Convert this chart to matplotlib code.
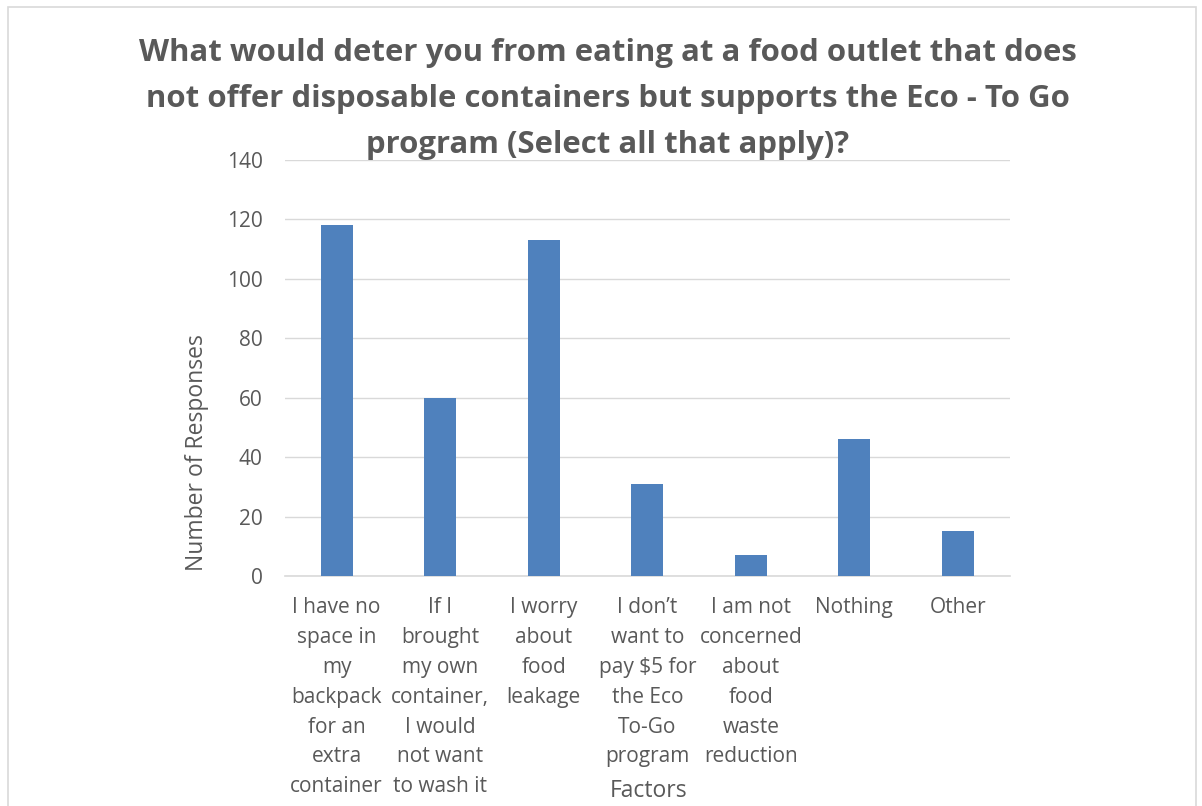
import matplotlib.pyplot as plt
from matplotlib.patches import Rectangle

categories = [
    "I have no\nspace in\nmy\nbackpack\nfor an\nextra\ncontainer",
    "If I\nbrought\nmy own\ncontainer,\nI would\nnot want\nto wash it",
    "I worry\nabout\nfood\nleakage",
    "I don\u2019t\nwant to\npay $5 for\nthe Eco\nTo-Go\nprogram",
    "I am not\nconcerned\nabout\nfood\nwaste\nreduction",
    "Nothing",
    "Other",
]
responses = [118, 60, 113, 31, 7, 46, 15]
yticks = [0, 20, 40, 60, 80, 100, 120, 140]

title_lines = [
    "What would deter you from eating at a food outlet that does",
    "not offer disposable containers but supports the Eco - To Go",
    "program (Select all that apply)?",
]

text_color = "#595959"
grid_color = "#D9D9D9"
bar_color = "#4F81BD"

plt.rcParams['font.family'] = ['Open Sans', 'DejaVu Sans']

fig = plt.figure(figsize=(12.02, 8.06), dpi=100)
ax = fig.add_axes([0.237, 0.2854, 0.603, 0.5161])

x = range(len(categories))
ax.bar(x, responses, width=0.31, color=bar_color, zorder=3)

ax.set_xlim(-0.5, len(categories) - 0.5)
ax.set_ylim(0, 140)
ax.set_yticks(yticks)
ax.set_xticks(list(x))
ax.set_xticklabels(categories, linespacing=1.55, va="top")
ax.tick_params(axis="both", length=0, colors=text_color, labelsize=15)
ax.tick_params(axis="x", pad=15.5)
ax.tick_params(axis="y", pad=16)
ax.grid(axis="y", color=grid_color, linewidth=1, zorder=0)
for side in ["top", "right", "left"]:
    ax.spines[side].set_visible(False)
ax.spines["bottom"].set_color(grid_color)
ax.spines["bottom"].set_linewidth(1.2)

# title, one line at a time so the spacing matches
for i, line in enumerate(title_lines):
    fig.text(608 / 1202, 1 - (53 + 46 * i) / 806, line, ha="center",
             va="center", fontsize=22.4, fontweight="bold", color=text_color)

fig.text(197 / 1202, 1 - 453 / 806, "Number of Responses", rotation=90,
         ha="center", va="center", fontsize=16.5, color=text_color)
fig.text(649 / 1202, 1 - 791 / 806, "Factors", ha="center", va="center",
         fontsize=16.5, color=text_color)

# light frame around the chart area
fig.patches.append(Rectangle((8 / 1202, -0.1), 1188 / 1202, 1.1 - 7 / 806,
                             transform=fig.transFigure, fill=False,
                             edgecolor="#D9D9D9", linewidth=1.2))

fig.savefig("out.png", dpi=100)
